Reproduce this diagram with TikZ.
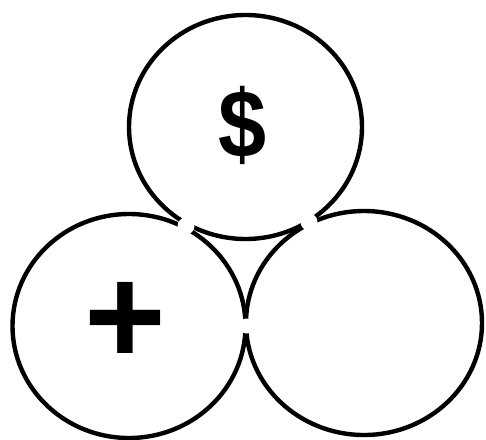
\documentclass[tikz,border=0pt]{standalone}
\usepackage{fontspec}
\setmainfont{Liberation Sans}
\begin{document}
\begin{tikzpicture}[x=1pt,y=-1pt,
  ring/.style={draw=black,line width=4.4pt},
  gap/.style={fill=white,draw=none},
  sym/.style={inner sep=0pt,text=black}]
\useasboundingbox (0,0) rectangle (486,439);
\fill[white] (0,0) rectangle (486,439);
% three rings
\draw[ring] (245.5,127) ellipse [x radius=116.5, y radius=112];
\draw[ring] (129,326) ellipse [x radius=116.5, y radius=112];
\draw[ring] (364,323) ellipse [x radius=118, y radius=112];
% gaps at the touching points
\coordinate (gtl) at (186,226);
\coordinate (gtr) at (309,222);
\coordinate (gb) at (246.5,326);
\fill[gap] (gtl) circle (8.5);
\fill[gap] (gtr) circle (8.5);
\fill[gap] (gb) circle (7.5);
% symbols
\node[sym,font=\bfseries\fontsize{96}{96}\selectfont,xscale=0.9] (dollar) at (243,125) {\$};
\node[sym,font=\bfseries\fontsize{140}{140}\selectfont] (plus) at (125,323) {+};
\end{tikzpicture}
\end{document}
